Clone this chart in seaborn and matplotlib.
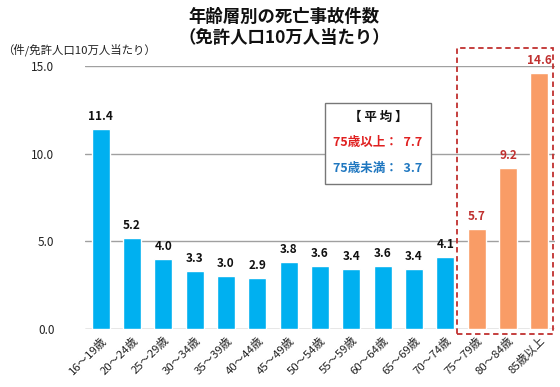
import matplotlib
matplotlib.use("Agg")
import matplotlib.pyplot as plt
import seaborn as sns
import pandas as pd
from matplotlib.patches import Rectangle

categories = ["16～19歳", "20～24歳", "25～29歳", "30～34歳", "35～39歳", "40～44歳",
              "45～49歳", "50～54歳", "55～59歳", "60～64歳", "65～69歳", "70～74歳",
              "75～79歳", "80～84歳", "85歳以上"]
values = [11.4, 5.2, 4.0, 3.3, 3.0, 2.9, 3.8, 3.6, 3.4, 3.6, 3.4, 4.1, 5.7, 9.2, 14.6]
groups = ["75歳未満"] * 12 + ["75歳以上"] * 3
yticks = [0.0, 5.0, 10.0, 15.0]

sns.set_theme(style="white")
plt.rcParams['font.family'] = ['Noto Sans CJK JP', 'DejaVu Sans']

df = pd.DataFrame({"age": categories, "value": values, "group": groups})

fig = plt.figure(figsize=(5.6, 3.87), dpi=100)
ax = fig.add_axes([85/560, 1-329/387, 470/560, (329-66)/387])

blue = "#00B0F0"
orange = "#F99C66"
sns.barplot(data=df, x="age", y="value", hue="group",
            palette={"75歳未満": blue, "75歳以上": orange},
            dodge=False, width=0.57, legend=False, ax=ax, saturation=1)

ax.set_ylim(0, 15)
ax.set_xlim(-0.5, 14.5)
ax.set_yticks(yticks)
ax.set_yticklabels([f"{t:.1f}" for t in yticks], fontsize=8.5, color="#222222")
for t in yticks:
    ax.axhline(t, color="#A0A0A0" if t > 0 else "#888888", lw=1, zorder=0)
for s in ax.spines.values():
    s.set_visible(False)
ax.tick_params(axis="y", length=0, pad=22)
ax.tick_params(axis="x", length=0, pad=4)
ax.set_xticks(range(len(categories)))
ax.set_xticklabels(categories, rotation=45, ha="right", rotation_mode="anchor",
                   fontsize=8.2, color="#222222")
ax.set_xlabel("")
ax.set_ylabel("")

for i, (v, g) in enumerate(zip(values, groups)):
    col = "#C0302F" if g == "75歳以上" else "#111111"
    ax.text(i, v + 0.35, f"{v:.1f}", ha="center", va="bottom", fontsize=8.5,
            fontweight="bold", color=col, clip_on=False)

# dashed highlight box
ax.add_patch(Rectangle((11.37, -0.29), 3.07, 16.32, fill=False, ls=(0, (3, 2)),
                       lw=1.3, ec="#C0302F", clip_on=False, zorder=5))

# average box
ax.add_patch(Rectangle((7.16, 8.27), 3.38, 4.62, facecolor="white", ec="#777777",
                       lw=1, clip_on=False, zorder=6))
ax.text(8.85, 12.09, "【 平 均 】", ha="center", va="center", fontsize=9,
        fontweight="bold", color="#111111", zorder=7)
ax.text(8.85, 10.61, "75歳以上：  7.7", ha="center", va="center", fontsize=9,
        fontweight="bold", color="#E02020", zorder=7)
ax.text(8.85, 9.13, "75歳未満：  3.7", ha="center", va="center", fontsize=9,
        fontweight="bold", color="#1F77C0", zorder=7)

fig.text(284/560, 1-17/387, "年齢層別の死亡事故件数", ha="center", va="center",
         fontsize=12.5, fontweight="bold", color="#111111")
fig.text(284/560, 1-38/387, "（免許人口10万人当たり）", ha="center", va="center",
         fontsize=12.5, fontweight="bold", color="#111111")
fig.text(2/560, 1-50/387, "（件/免許人口10万人当たり）", ha="left", va="center",
         fontsize=8.2, color="#222222")

fig.savefig("out.png", dpi=100)
